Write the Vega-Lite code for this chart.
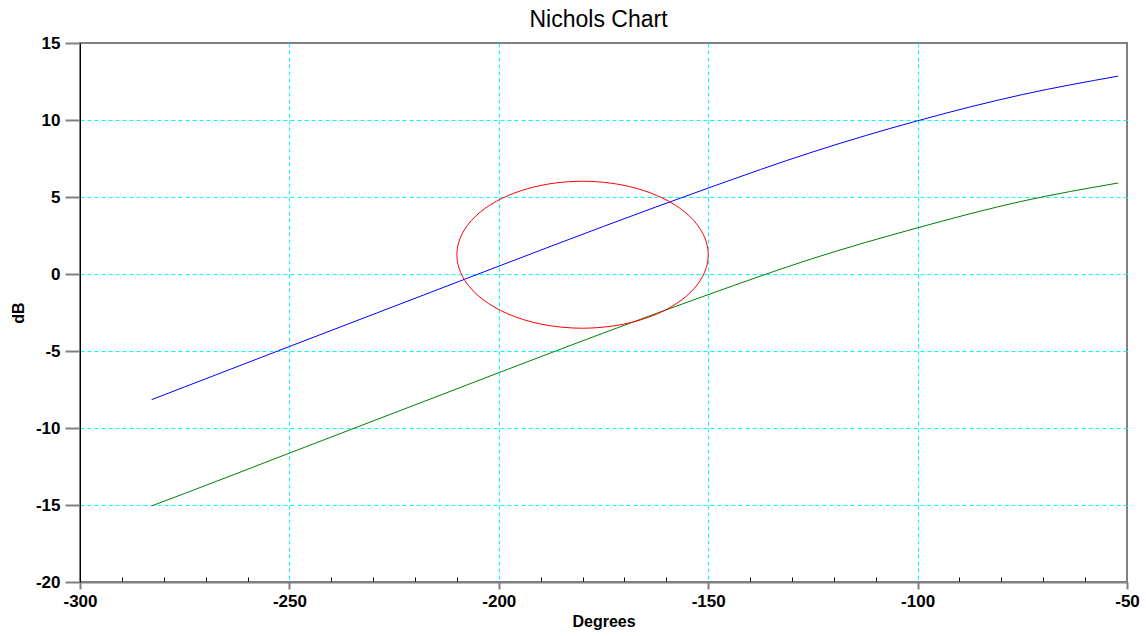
{
  "$schema": "https://vega.github.io/schema/vega-lite/v6.json",
  "autosize": {"type": "none"},
  "padding": {"left": 80, "top": 43, "right": 19, "bottom": 54},
  "width": 1047,
  "height": 539,
  "background": "white",
  "title": {"text": "Nichols Chart", "font": "Liberation Sans", "fontSize": 23, "fontWeight": "normal", "color": "black", "anchor": "middle", "frame": "group", "offset": 2, "dx": -5},
  "config": {
    "view": {"stroke": "#808080", "strokeWidth": 2},
    "axis": {"labelFont": "Liberation Sans", "titleFont": "Liberation Sans", "labelColor": "black", "titleColor": "black"}
  },
  "datasets": {
    "open": [
      {"series": "G1", "phase": -282.9, "db": -8.16},
      {"series": "G1", "phase": -275, "db": -7.33},
      {"series": "G1", "phase": -250, "db": -4.71},
      {"series": "G1", "phase": -225, "db": -2.10},
      {"series": "G1", "phase": -200, "db": 0.51},
      {"series": "G1", "phase": -175, "db": 3.09},
      {"series": "G1", "phase": -150, "db": 5.58},
      {"series": "G1", "phase": -125, "db": 7.93},
      {"series": "G1", "phase": -100, "db": 9.95},
      {"series": "G1", "phase": -75, "db": 11.65},
      {"series": "G1", "phase": -52.1, "db": 12.85},
      {"series": "G2", "phase": -282.9, "db": -15.06},
      {"series": "G2", "phase": -275, "db": -14.25},
      {"series": "G2", "phase": -250, "db": -11.63},
      {"series": "G2", "phase": -225, "db": -9.02},
      {"series": "G2", "phase": -200, "db": -6.41},
      {"series": "G2", "phase": -175, "db": -3.83},
      {"series": "G2", "phase": -150, "db": -1.34},
      {"series": "G2", "phase": -125, "db": 1.01},
      {"series": "G2", "phase": -100, "db": 3.0},
      {"series": "G2", "phase": -75, "db": 4.73},
      {"series": "G2", "phase": -52.1, "db": 5.91}
    ],
    "mcircle": [
      {"k": 0, "phase": -180.0, "db": -3.522},
      {"k": 1, "phase": -189.71, "db": -3.266},
      {"k": 2, "phase": -197.88, "db": -2.583},
      {"k": 3, "phase": -203.79, "db": -1.658},
      {"k": 4, "phase": -207.51, "db": -0.653},
      {"k": 5, "phase": -209.44, "db": 0.332},
      {"k": 6, "phase": -210.0, "db": 1.249},
      {"k": 7, "phase": -209.54, "db": 2.08},
      {"k": 8, "phase": -208.33, "db": 2.818},
      {"k": 9, "phase": -206.57, "db": 3.468},
      {"k": 10, "phase": -204.38, "db": 4.033},
      {"k": 11, "phase": -201.86, "db": 4.518},
      {"k": 12, "phase": -199.11, "db": 4.929},
      {"k": 13, "phase": -196.16, "db": 5.27},
      {"k": 14, "phase": -193.08, "db": 5.544},
      {"k": 15, "phase": -189.9, "db": 5.754},
      {"k": 16, "phase": -186.64, "db": 5.903},
      {"k": 17, "phase": -183.33, "db": 5.991},
      {"k": 18, "phase": -180.0, "db": 6.021},
      {"k": 19, "phase": -176.67, "db": 5.991},
      {"k": 20, "phase": -173.36, "db": 5.903},
      {"k": 21, "phase": -170.1, "db": 5.754},
      {"k": 22, "phase": -166.92, "db": 5.544},
      {"k": 23, "phase": -163.84, "db": 5.27},
      {"k": 24, "phase": -160.89, "db": 4.929},
      {"k": 25, "phase": -158.14, "db": 4.518},
      {"k": 26, "phase": -155.62, "db": 4.033},
      {"k": 27, "phase": -153.43, "db": 3.468},
      {"k": 28, "phase": -151.67, "db": 2.818},
      {"k": 29, "phase": -150.46, "db": 2.08},
      {"k": 30, "phase": -150.0, "db": 1.249},
      {"k": 31, "phase": -150.56, "db": 0.332},
      {"k": 32, "phase": -152.49, "db": -0.653},
      {"k": 33, "phase": -156.21, "db": -1.658},
      {"k": 34, "phase": -162.12, "db": -2.583},
      {"k": 35, "phase": -170.29, "db": -3.266}
    ]
  },
  "encoding": {
    "x": {
      "field": "phase", "type": "quantitative",
      "scale": {"domain": [-300, -50], "nice": false, "zero": false},
      "axis": {
        "title": "Degrees", "titleFontSize": 16, "titleFontWeight": "bold", "titlePadding": 4,
        "values": [-300, -290, -280, -270, -260, -250, -240, -230, -220, -210, -200, -190, -180, -170, -160, -150, -140, -130, -120, -110, -100, -90, -80, -70, -60, -50],
        "labelExpr": "datum.value % 50 === 0 ? toString(datum.value) : ''",
        "labelFontSize": 17, "labelFontWeight": "bold", "labelPadding": 4, "labelFlush": false, "labelOverlap": false,
        "domainColor": "#808080", "domainWidth": 2,
        "tickSize": {"condition": {"test": "datum.value % 50 === 0", "value": 7}, "value": -5},
        "tickColor": {"condition": {"test": "datum.value % 50 === 0", "value": "#808080"}, "value": "black"},
        "tickWidth": {"condition": {"test": "datum.value % 50 === 0", "value": 2}, "value": 1},
        "grid": true, "gridDash": [4, 3], "gridWidth": 1,
        "gridColor": {"condition": {"test": "datum.value % 50 === 0 && datum.value > -300 && datum.value < -50", "value": "#00FFFF"}, "value": "transparent"}
      }
    },
    "y": {
      "field": "db", "type": "quantitative",
      "scale": {"domain": [-20, 15], "nice": false, "zero": false},
      "axis": {
        "title": "dB", "titleFontSize": 16, "titleFontWeight": "bold", "titlePadding": 9,
        "values": [-20, -15, -10, -5, 0, 5, 10, 15],
        "labelExpr": "toString(datum.value)",
        "labelFontSize": 17, "labelFontWeight": "bold", "labelPadding": 5,
        "labelFlush": false, "labelOverlap": false,
        "domainColor": "black", "domainWidth": 1,
        "tickSize": 15, "tickColor": "#808080", "tickWidth": 2,
        "grid": true, "gridDash": [4, 3], "gridWidth": 1,
        "gridColor": {"condition": {"test": "datum.value > -20 && datum.value < 15", "value": "#00FFFF"}, "value": "transparent"}
      }
    }
  },
  "layer": [
    {
      "data": {"name": "open"},
      "mark": {"type": "line", "interpolate": "monotone", "strokeWidth": 1},
      "encoding": {
        "color": {"field": "series", "type": "nominal", "scale": {"domain": ["G1", "G2"], "range": ["#0000FF", "#008000"]}, "legend": null}
      }
    },
    {
      "data": {"name": "mcircle"},
      "mark": {"type": "line", "interpolate": "cardinal-closed", "strokeWidth": 1, "color": "#FF0000"},
      "encoding": {
        "order": {"field": "k", "type": "quantitative"}
      }
    }
  ]
}
